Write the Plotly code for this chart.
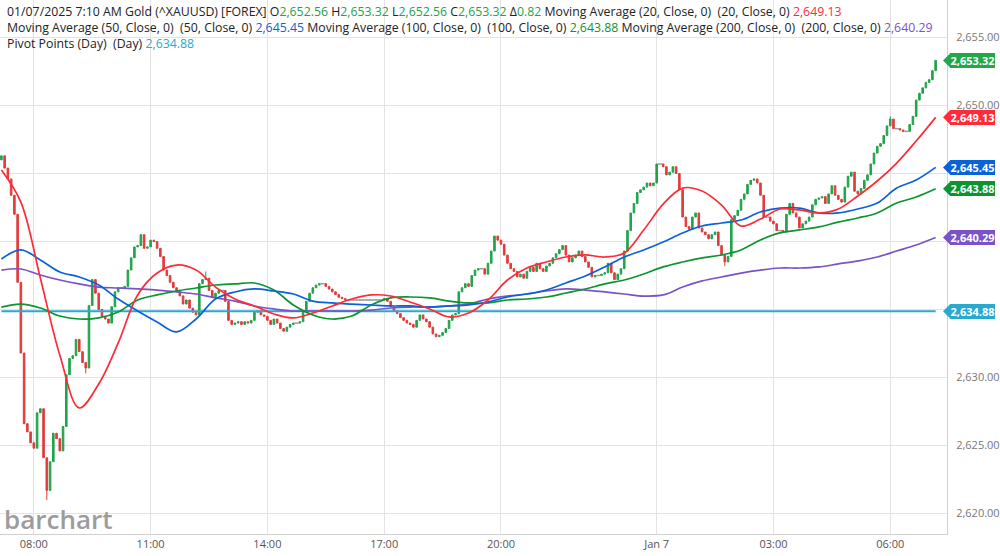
import pandas as pd
import plotly.graph_objects as go

# ---------------- data ----------------
start_time = "2025-01-06 07:10"
bar_minutes = 5
first_open = 2646.0

closes = [
    2646.3, 2645.4, 2644.6, 2643.4, 2642.0, 2637.0, 2631.8, 2626.6, 2626.0, 2625.2,
    2624.8, 2627.4, 2627.7, 2624.1, 2621.7, 2623.8, 2625.9, 2625.5, 2624.6, 2626.4,
    2630.2, 2631.4, 2631.6, 2632.8, 2631.9, 2631.1, 2630.7, 2635.3, 2637.2, 2636.2,
    2635.0, 2634.5, 2634.3, 2634.0, 2635.2, 2636.3, 2636.6, 2636.6, 2636.7, 2637.9,
    2638.8, 2639.6, 2639.7, 2640.5, 2639.5, 2639.6, 2640.1, 2640.0, 2639.5, 2638.9,
    2637.9, 2637.5, 2637.0, 2636.6, 2636.4, 2636.0, 2635.4, 2635.7, 2635.1, 2634.8,
    2634.6, 2636.9, 2637.2, 2637.3, 2636.4, 2635.9, 2636.2, 2636.4, 2636.4, 2635.6,
    2634.2, 2633.9, 2634.0, 2634.1, 2633.9, 2634.1, 2634.0, 2634.2, 2634.8, 2634.9,
    2634.6, 2634.5, 2634.2, 2633.9, 2634.3, 2634.0, 2633.6, 2633.4, 2633.7, 2633.9,
    2634.0, 2634.0, 2634.1, 2634.8, 2635.6, 2636.2, 2636.6, 2636.8, 2636.9, 2636.9,
    2636.7, 2636.5, 2636.3, 2636.1, 2635.9, 2635.8, 2635.7, 2635.7, 2635.7, 2635.7,
    2635.7, 2635.7, 2635.7, 2635.7, 2635.7, 2635.7, 2635.7, 2635.7, 2635.8, 2635.6,
    2635.2, 2634.9, 2634.7, 2634.4, 2634.2, 2634.0, 2633.9, 2633.7, 2634.2, 2634.6,
    2634.3, 2634.1, 2633.7, 2633.2, 2633.0, 2633.1, 2633.3, 2633.6, 2634.2, 2634.6,
    2634.7, 2636.3, 2636.6, 2636.9, 2636.7, 2637.5, 2637.9, 2638.0, 2638.0, 2637.6,
    2638.4, 2639.3, 2640.4, 2640.1, 2639.8, 2639.0, 2638.4, 2638.0, 2637.8, 2637.4,
    2637.6, 2637.3, 2637.8, 2638.1, 2637.8, 2638.4, 2638.0, 2637.8, 2638.2, 2638.4,
    2638.8, 2639.1, 2639.4, 2639.7, 2639.0, 2638.5, 2638.8, 2639.0, 2639.3, 2638.9,
    2638.5, 2638.1, 2637.4, 2637.5, 2637.5, 2637.6, 2637.7, 2638.4, 2637.7, 2637.2,
    2637.6, 2638.0, 2639.3, 2640.8, 2642.1, 2642.8, 2643.6, 2643.8, 2644.0, 2644.3,
    2644.1, 2644.3, 2645.7, 2645.7, 2645.5, 2644.9, 2645.1, 2645.5, 2645.0, 2643.8,
    2641.8, 2641.1, 2640.9, 2641.8, 2642.1, 2641.0, 2640.7, 2640.5, 2640.2, 2640.5,
    2640.7, 2639.7, 2639.0, 2638.5, 2638.9, 2641.6, 2641.9, 2642.3, 2643.1, 2643.5,
    2644.2, 2644.5, 2644.6, 2644.3, 2643.4, 2641.8, 2641.8, 2641.5, 2641.3, 2640.8,
    2640.8, 2640.7, 2642.0, 2642.8, 2642.1, 2641.8, 2641.0, 2641.3, 2641.5, 2641.8,
    2642.7, 2643.1, 2643.2, 2643.3, 2642.8, 2643.5, 2644.1, 2643.4, 2643.1, 2642.9,
    2644.0, 2644.8, 2645.1, 2643.7, 2643.5, 2643.9, 2644.5, 2644.9, 2645.7, 2646.5,
    2647.0, 2647.2, 2647.8, 2648.5, 2649.0, 2648.3, 2648.3, 2648.2, 2648.1, 2648.1,
    2648.6, 2649.2, 2650.4, 2650.9, 2651.3, 2651.7, 2651.9, 2652.56, 2653.32,
]
wick_high = {63: 2637.8, 274: 2649.2}
wick_low = {14: 2621.0, 26: 2630.3, 223: 2638.2}

# moving averages sampled every 6 bars (30 minutes)
ma_step = 6
ma20 = [2645.26, 2642.90, 2637.32, 2631.65, 2627.76, 2629.52, 2632.54, 2636.07, 2637.68, 2638.27,
        2637.90, 2636.65, 2635.77, 2635.26, 2634.67, 2634.38, 2634.74, 2635.26, 2635.77, 2636.07,
        2635.99, 2635.55, 2635.04, 2634.45, 2634.74, 2635.70, 2637.17, 2638.05, 2638.49, 2638.86,
        2639.01, 2638.86, 2639.15, 2640.84, 2642.75, 2643.93, 2643.71, 2642.68, 2641.14, 2641.65,
        2642.39, 2642.32, 2642.10, 2642.39, 2643.35, 2644.45, 2645.77, 2647.39, 2649.13]
ma50 = [2638.71, 2639.38, 2638.64, 2637.76, 2637.39, 2636.80, 2635.77, 2634.89, 2634.08, 2633.35,
        2634.30, 2635.77, 2636.29, 2636.51, 2636.36, 2636.14, 2635.62, 2635.48, 2635.40, 2635.33,
        2635.26, 2635.26, 2635.18, 2635.26, 2635.33, 2635.55, 2635.92, 2636.14, 2636.43, 2636.95,
        2637.46, 2638.13, 2638.86, 2639.38, 2639.96, 2640.63, 2641.14, 2641.36, 2641.58, 2642.17,
        2642.46, 2642.46, 2642.10, 2642.10, 2642.39, 2642.83, 2643.93, 2644.52, 2645.45]
ma100 = [2635.18, 2635.40, 2635.11, 2634.52, 2634.30, 2634.38, 2634.82, 2635.70, 2636.07, 2636.36,
         2636.58, 2636.80, 2636.88, 2636.95, 2636.43, 2635.33, 2634.60, 2634.30, 2634.52, 2635.33,
         2635.85, 2635.92, 2635.85, 2635.62, 2635.48, 2635.48, 2635.70, 2635.77, 2635.92, 2636.21,
         2636.51, 2636.88, 2637.17, 2637.61, 2638.13, 2638.49, 2638.79, 2639.01, 2639.38, 2640.11,
         2640.63, 2640.85, 2641.07, 2641.43, 2641.73, 2642.10, 2642.83, 2643.27, 2643.88]
ma200 = [2637.90, 2637.98, 2637.54, 2637.17, 2636.88, 2636.65, 2636.58, 2636.51, 2636.43, 2636.29,
         2636.14, 2635.85, 2635.62, 2635.26, 2635.04, 2634.89, 2634.89, 2634.89, 2634.89, 2634.96,
         2635.11, 2635.18, 2635.18, 2635.26, 2635.40, 2635.77, 2635.99, 2636.14, 2636.36, 2636.51,
         2636.43, 2636.29, 2636.14, 2635.99, 2636.07, 2636.65, 2637.10, 2637.39, 2637.68, 2637.90,
         2638.05, 2638.05, 2638.13, 2638.35, 2638.57, 2638.86, 2639.30, 2639.74, 2640.29]
pivot = 2634.88
change = 0.82

x_tick_vals = ["2025-01-06 08:00", "2025-01-06 11:00", "2025-01-06 14:00", "2025-01-06 17:00",
               "2025-01-06 20:00", "2025-01-07 00:00", "2025-01-07 03:00", "2025-01-07 06:00"]
x_tick_text = ["08:00", "11:00", "14:00", "17:00", "20:00", "Jan 7", "03:00", "06:00"]
y_tick_vals = [2620, 2625, 2630, 2635, 2640, 2645, 2650, 2655]
# labels at 2,635 / 2,640 / 2,645 are covered by the value tags in the reference
y_tick_text = ["2,620.00", "2,625.00", "2,630.00", "", "", "", "2,650.00", "2,655.00"]
x_range = ["2025-01-06 07:07:50", "2025-01-07 07:27:30"]
y_range = [2618.49, 2657.76]

# ---------------- styles ----------------
GREEN = "#22a34b"
RED = "#e23b3b"
C_MA20 = "#ff2b38"
C_MA50 = "#0a62d8"
C_MA100 = "#0c952f"
C_MA200 = "#7b52c8"
C_PIV = "#2aa9cf"
TAG_CLOSE = "#22a84b"
FONT = "Open Sans"
W, H = 1000, 556
M_L, M_R, M_T, M_B = 0, 50, 0, 22
PLOT_H = H - M_T - M_B
TAG_H = 15

# ---------------- build ----------------
n = len(closes)
times = pd.date_range(start_time, periods=n, freq=f"{bar_minutes}min")
opens = [first_open] + closes[:-1]
highs = [max(o, c) for o, c in zip(opens, closes)]
lows = [min(o, c) for o, c in zip(opens, closes)]
for k, v in wick_high.items():
    highs[k] = v
for k, v in wick_low.items():
    lows[k] = v

mov = [i for i in range(n) if abs(opens[i] - closes[i]) > 1e-9]
flat = [i for i in range(n) if abs(opens[i] - closes[i]) <= 1e-9]

fig = go.Figure()
fig.add_trace(go.Candlestick(
    x=[times[i] for i in mov],
    open=[opens[i] for i in mov], high=[highs[i] for i in mov],
    low=[lows[i] for i in mov], close=[closes[i] for i in mov],
    increasing=dict(line=dict(color=GREEN, width=1), fillcolor=GREEN),
    decreasing=dict(line=dict(color=RED, width=1), fillcolor=RED),
    whiskerwidth=0, showlegend=False, hoverinfo="skip",
))
fig.add_trace(go.Scatter(
    x=[times[i] for i in flat], y=[closes[i] for i in flat], mode="markers",
    marker=dict(symbol="line-ew", size=3, line=dict(color="#9a9a9a", width=1.5)),
    showlegend=False, hoverinfo="skip",
))
fig.add_trace(go.Scatter(
    x=[times[0], times[-1]], y=[pivot, pivot], mode="lines",
    line=dict(color=C_PIV, width=2), showlegend=False, hoverinfo="skip",
))
ma_times = times[::ma_step]
for vals, col in [(ma200, C_MA200), (ma100, C_MA100), (ma50, C_MA50), (ma20, C_MA20)]:
    fig.add_trace(go.Scatter(
        x=ma_times, y=vals, mode="lines",
        line=dict(color=col, width=1.7, shape="spline", smoothing=1.0),
        showlegend=False, hoverinfo="skip",
    ))

def fmt(v):
    return f"{v:,.2f}"

def py(px):
    # pixel row -> paper coordinate
    return 1 - (px - M_T) / PLOT_H

def span(t, c):
    return f"<span style='color:{c}'>{t}</span>"

sp2 = "&nbsp;&nbsp;"
last = n - 1
line1 = ("01/07/2025 7:10 AM Gold (^XAUUSD) [FOREX] "
         f"O{span(fmt(opens[last]), GREEN)} H{span(fmt(highs[last]), GREEN)} "
         f"L{span(fmt(lows[last]), GREEN)} C{span(fmt(closes[last]), GREEN)} "
         f"Δ{span(f'{change:.2f}', GREEN)} Moving Average (20, Close, 0){sp2}(20, Close, 0) "
         f"{span(fmt(ma20[-1]), C_MA20)}")
line2 = (f"Moving Average (50, Close, 0){sp2}(50, Close, 0) {span(fmt(ma50[-1]), C_MA50)} "
         f"Moving Average (100, Close, 0){sp2}(100, Close, 0) {span(fmt(ma100[-1]), C_MA100)} "
         f"Moving Average (200, Close, 0){sp2}(200, Close, 0) {span(fmt(ma200[-1]), C_MA200)}")
line3 = f"Pivot Points (Day){sp2}(Day) {span(fmt(pivot), C_PIV)}"

annotations = [dict(
    text="<br>".join([line1, line2, line3]), xref="paper", yref="paper",
    x=0, y=py(1), xshift=5, xanchor="left", yanchor="top", align="left",
    showarrow=False, font=dict(family=FONT, size=12.3, color="#222222"),
)]

annotations.append(dict(
    text="barchart", xref="paper", yref="paper", x=0, y=py(519), xshift=2,
    xanchor="left", yanchor="middle", showarrow=False,
    font=dict(family=FONT, size=26, color="#9c9c9c", weight=600),
))

shapes = []
tags = [(closes[last], TAG_CLOSE), (ma20[-1], C_MA20), (ma50[-1], C_MA50),
        (ma100[-1], C_MA100), (ma200[-1], C_MA200), (pivot, C_PIV)]
half = TAG_H / 2
for val, col in tags:
    annotations.append(dict(
        text=f"<b>{fmt(val)}</b>", xref="paper", yref="y", x=1, y=val, xshift=3,
        xanchor="left", yanchor="middle", showarrow=False, bgcolor=col,
        width=45, height=TAG_H, borderpad=0, borderwidth=0, align="center",
        font=dict(family=FONT, size=11, color="white"),
    ))
    shapes.append(dict(
        type="path", xref="paper", yref="y", xsizemode="pixel", ysizemode="pixel",
        xanchor=1, yanchor=val, path=f"M -4 0 L 3.5 {half} L 3.5 -{half} Z",
        fillcolor=col, line=dict(width=0), layer="above",
    ))

fig.update_layout(
    width=W, height=H, margin=dict(l=M_L, r=M_R, t=M_T, b=M_B),
    paper_bgcolor="white", plot_bgcolor="white",
    showlegend=False, annotations=annotations, shapes=shapes,
    font=dict(family=FONT),
    xaxis=dict(
        type="date", range=x_range, rangeslider=dict(visible=False),
        tickmode="array", tickvals=x_tick_vals, ticktext=x_tick_text,
        showgrid=True, gridcolor="#e3e3e3", gridwidth=1,
        showline=True, linecolor="#d0d0d0", linewidth=1,
        ticks="", tickfont=dict(family=FONT, size=11, color="#555555"),
        zeroline=False, fixedrange=True,
    ),
    yaxis=dict(
        side="right", range=y_range, tickmode="array", tickvals=y_tick_vals,
        ticktext=y_tick_text, showgrid=True, gridcolor="#e3e3e3", gridwidth=1,
        showline=True, linecolor="#d0d0d0", linewidth=1,
        ticks="", ticklabelstandoff=6,
        tickfont=dict(family=FONT, size=11, color="#777777"),
        zeroline=False, fixedrange=True,
    ),
)

fig.write_html("out.html")
